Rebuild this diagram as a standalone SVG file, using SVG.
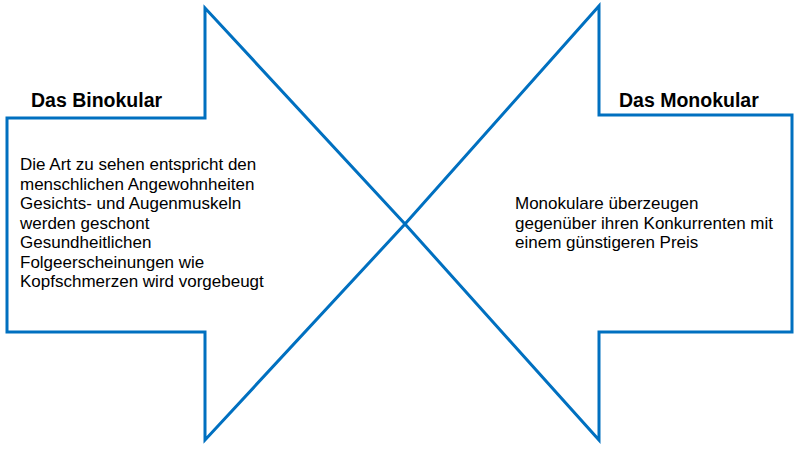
<svg xmlns="http://www.w3.org/2000/svg" width="800" height="449" viewBox="0 0 800 449">
<style>
.arrow{fill:none;stroke:#0070C0;stroke-width:3;stroke-linejoin:miter}
.title{font-family:"Liberation Sans",Arial,sans-serif;font-weight:bold;font-size:19.5px;fill:#000}
.body{font-family:"Liberation Sans",Arial,sans-serif;font-size:17px;fill:#000}
</style>
<rect width="800" height="449" fill="#fff"/>
<g id="binokular">
<polygon class="arrow" points="7,118 205,118 205,8 405,224 205,440 205,332 7,332"/>
<text class="title" x="31" y="107">Das Binokular</text>
<text class="body">
<tspan x="20" y="170">Die Art zu sehen entspricht den</tspan>
<tspan x="20" y="189.5">menschlichen Angewohnheiten</tspan>
<tspan x="20" y="209">Gesichts- und Augenmuskeln</tspan>
<tspan x="20" y="228.5">werden geschont</tspan>
<tspan x="20" y="248">Gesundheitlichen</tspan>
<tspan x="20" y="267.5">Folgeerscheinungen wie</tspan>
<tspan x="20" y="287">Kopfschmerzen wird vorgebeugt</tspan>
</text>
</g>
<g id="monokular">
<polygon class="arrow" points="792,115 599,115 599,6 405,224 599,440 599,332 792,332"/>
<text class="title" x="619" y="107">Das Monokular</text>
<text class="body">
<tspan x="515" y="209">Monokulare überzeugen</tspan>
<tspan x="515" y="228.5">gegenüber ihren Konkurrenten mit</tspan>
<tspan x="515" y="248">einem günstigeren Preis</tspan>
</text>
</g>
<g id="connectors"></g>
</svg>
